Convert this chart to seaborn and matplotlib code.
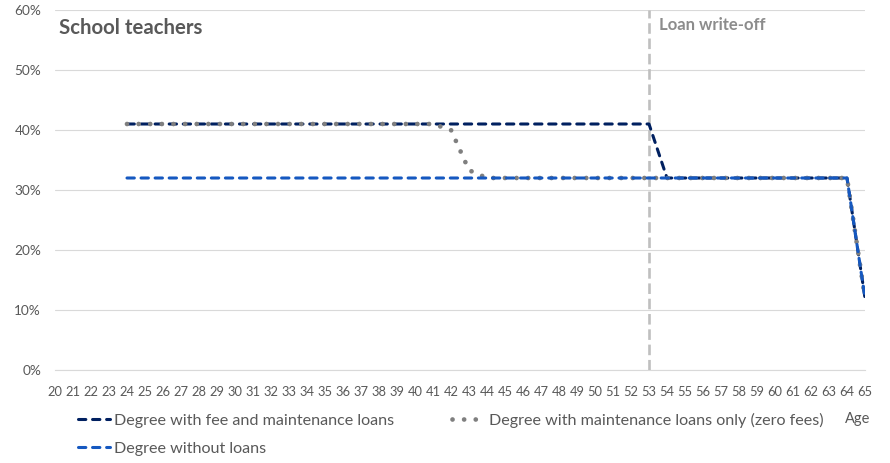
import numpy as np
import pandas as pd
import matplotlib
matplotlib.use("Agg")
import matplotlib.pyplot as plt
import seaborn as sns
from matplotlib.ticker import FuncFormatter, MultipleLocator
from matplotlib.lines import Line2D

ages = list(range(20, 66))
nan = np.nan
fee_and_maintenance = [nan, nan, nan, nan,
                       41, 41, 41, 41, 41, 41, 41, 41, 41, 41,
                       41, 41, 41, 41, 41, 41, 41, 41, 41, 41,
                       41, 41, 41, 41, 41, 41, 41, 41, 41, 41,
                       32, 32, 32, 32, 32, 32, 32, 32, 32, 32, 32,
                       12]
maintenance_only = [nan, nan, nan, nan,
                    41, 41, 41, 41, 41, 41, 41, 41, 41, 41,
                    41, 41, 41, 41, 41, 41, 41, 41,
                    40, 33.3,
                    32, 32, 32, 32, 32, 32, 32, 32, 32, 32,
                    32, 32, 32, 32, 32, 32, 32, 32, 32, 32, 32,
                    12]
without_loans = [nan, nan, nan, nan,
                 32, 32, 32, 32, 32, 32, 32, 32, 32, 32,
                 32, 32, 32, 32, 32, 32, 32, 32, 32, 32,
                 32, 32, 32, 32, 32, 32, 32, 32, 32, 32,
                 32, 32, 32, 32, 32, 32, 32, 32, 32, 32, 32,
                 12]
series_labels = ["Degree with fee and maintenance loans",
                 "Degree with maintenance loans only (zero fees)",
                 "Degree without loans"]
title = "School teachers"
writeoff_age = 53
writeoff_label = "Loan write-off"

df = pd.DataFrame({"age": ages,
                   series_labels[0]: fee_and_maintenance,
                   series_labels[1]: maintenance_only,
                   series_labels[2]: without_loans})

sns.set_theme(style="white")
plt.rcParams["font.family"] = ["Lato", "DejaVu Sans"]

fig = plt.figure(figsize=(8.9, 4.63), dpi=100)
ax = fig.add_axes([55 / 890, 1 - 370 / 463, 810 / 890, 360 / 463])

navy = "#002060"
blue = "#1558C0"
grey = "#7F7F7F"
lw = 2.2
dash = (0, (2.4, 2.2))
dot_lw = 3.4
dots = (0, (0.01, 2.45))

ax.set_ylim(0, 60)
ax.set_xlim(20, 65)
ax.yaxis.set_major_locator(MultipleLocator(10))
ax.grid(axis="y", color="#D9D9D9", linewidth=0.8)
ax.grid(axis="x", visible=False)
ax.set_axisbelow(True)

ax.axvline(writeoff_age, color="#BFBFBF", linewidth=1.9,
           linestyle=(0, (4.0, 1.8)), zorder=1)

sns.lineplot(data=df, x="age", y=series_labels[0], ax=ax, color=navy,
             linewidth=lw, linestyle=dash, dash_capstyle="round", zorder=3)
sns.lineplot(data=df, x="age", y=series_labels[1], ax=ax, color=grey,
             linewidth=dot_lw, linestyle=dots, dash_capstyle="round", zorder=4)
sns.lineplot(data=df, x="age", y=series_labels[2], ax=ax, color=blue,
             linewidth=lw, linestyle=dash, dash_capstyle="round", zorder=5)

ax.set_xlabel("")
ax.set_ylabel("")
ax.set_xticks(ages)
ax.set_xticklabels([str(a) for a in ages])
ax.yaxis.set_major_formatter(FuncFormatter(lambda v, p: f"{v:.0f}%"))

for s in ["top", "right", "left"]:
    ax.spines[s].set_visible(False)
ax.spines["bottom"].set_color("#D9D9D9")
ax.spines["bottom"].set_linewidth(0.8)
ax.tick_params(axis="x", which="major", direction="inout", length=5,
               width=0.8, color="#D9D9D9", labelsize=9.3, labelcolor="#595959",
               pad=9)
ax.tick_params(axis="y", length=0, labelsize=9.8, labelcolor="#595959", pad=10)
if ax.get_legend() is not None:
    ax.get_legend().remove()

fig.text(59 / 890, 1 - 28 / 463, title, fontsize=14.7,
         fontweight="bold", color="#595959", va="center", ha="left")
fig.text(659 / 890, 1 - 25 / 463, writeoff_label, fontsize=12,
         fontweight="bold", color="#8C8C8C", va="center", ha="left")

handles = [
    Line2D([], [], color=navy, linewidth=lw, linestyle=dash, dash_capstyle="round"),
    Line2D([], [], color=blue, linewidth=lw, linestyle=dash, dash_capstyle="round"),
    Line2D([], [], color=grey, linewidth=dot_lw, linestyle=dots, dash_capstyle="round"),
]
labels = [series_labels[0], series_labels[2], series_labels[1]]
fig.legend(handles, labels, loc="upper left",
           bbox_to_anchor=(78 / 890, 1 - 413 / 463),
           ncol=2, frameon=False, fontsize=11.6, labelcolor="#595959",
           handlelength=2.0, handletextpad=0.25, columnspacing=3.6,
           labelspacing=0.82, borderaxespad=0, borderpad=0)

fig.text(845 / 890, 1 - 419 / 463, "Age", fontsize=10.5, color="#595959",
         va="center", ha="left")

fig.savefig("out.png", dpi=100, facecolor="white")
